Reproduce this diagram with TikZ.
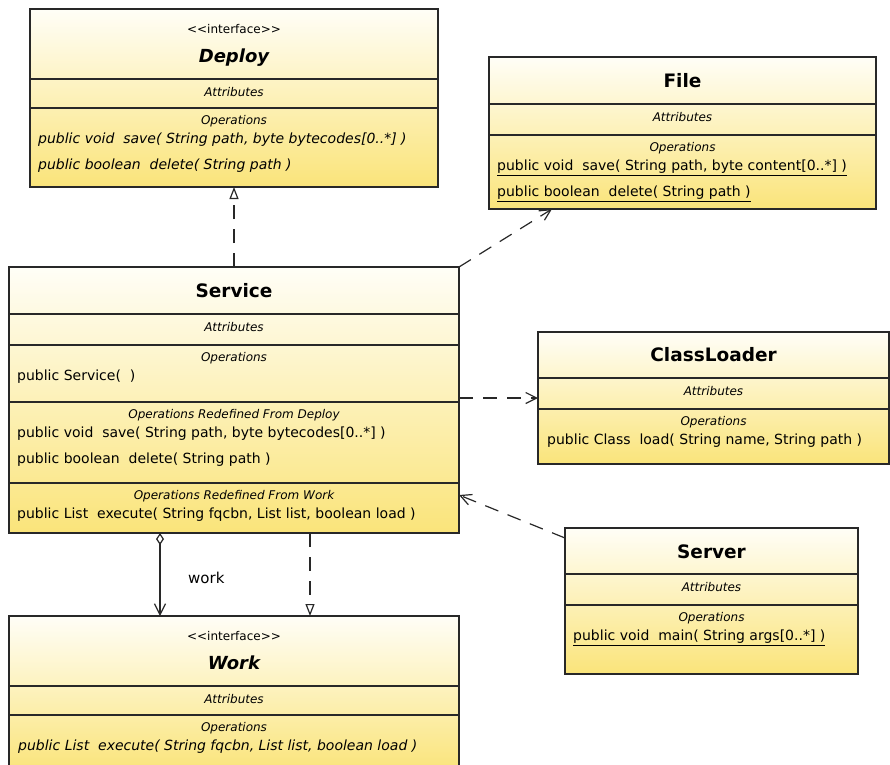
\documentclass[tikz,border=0pt]{standalone}
\usepackage{fontspec}
\setmainfont{DejaVu Sans}[Ligatures=TeXOff]
\usetikzlibrary{arrows.meta,calc}
\definecolor{umltop}{RGB}{255,254,247}
\definecolor{umlbot}{RGB}{250,228,122}
\definecolor{umlline}{RGB}{40,40,40}
\tikzset{
  umlbox/.style={draw=umlline, line width=1.2pt, top color=umltop, bottom color=umlbot,
    anchor=north west, inner sep=0pt, outer sep=0pt},
  ops/.style={anchor=base west, inner sep=0pt, font=\fontsize{14}{16}\selectfont},
  iops/.style={anchor=base west, inner sep=0pt, font=\fontsize{14}{16}\selectfont\itshape},
  hdr/.style={anchor=base, inner sep=0pt, font=\fontsize{12}{14}\selectfont\itshape},
  ttl/.style={anchor=base, inner sep=0pt, font=\fontsize{18.5}{20}\selectfont\bfseries},
  ittl/.style={anchor=base, inner sep=0pt, font=\fontsize{18}{20}\selectfont\bfseries\itshape},
  stereo/.style={anchor=base, inner sep=0pt, font=\fontsize{12}{14}\selectfont},
  divider/.style={draw=umlline, line width=1.2pt},
  conn/.style={draw=umlline, line width=1.2pt},
  dep/.style={conn, dash pattern=on 14pt off 10pt},
  realize/.style={dep, -{Triangle[open, width=9pt, length=12pt]}},
  depend/.style={dep, -{Straight Barb[width=11pt, length=11pt]}},
  aggr/.style={conn, {Diamond[open, width=8pt, length=12pt]}-{Straight Barb[width=11pt, length=11pt]}},
}
\begin{document}
\begin{tikzpicture}[x=1pt, y=-1pt]
\useasboundingbox (0,0) rectangle (890,764);
\clip (0,0) rectangle (890,764);
\fill[white] (0,0) rectangle (890,764);

% ---------- Deploy ----------
\node[umlbox, minimum width=408pt, minimum height=178pt] (deploy) at (30,9) {};
\draw[divider] ($(deploy.north west)+(0,70)$) -- ($(deploy.north east)+(0,70)$);
\draw[divider] ($(deploy.north west)+(0,99)$) -- ($(deploy.north east)+(0,99)$);
\node[stereo] (deployst) at (234,33) {<<interface>>};
\node[ittl] (deployname) at (234,62) {Deploy};
\node[hdr] (deployattr) at (234,96.5) {Attributes};
\node[hdr] (deployopsh) at (234,124) {Operations};
\node[iops] (deployop1) at (38,143.5) {public void\ \ save( String path, byte bytecodes[0..*] )};
\node[iops] (deployop2) at (38,169.5) {public boolean\ \ delete( String path )};

% ---------- File ----------
\node[umlbox, minimum width=387pt, minimum height=152pt] (file) at (489,57) {};
\draw[divider] ($(file.north west)+(0,47)$) -- ($(file.north east)+(0,47)$);
\draw[divider] ($(file.north west)+(0,78)$) -- ($(file.north east)+(0,78)$);
\node[ttl] (filename) at (682.5,87) {File};
\node[hdr] (fileattr) at (682.5,121.5) {Attributes};
\node[hdr] (fileopsh) at (682.5,151) {Operations};
\node[ops] (fileop1) at (497,170.5) {\underline{public void\ \ save( String path, byte content[0..*] )}};
\node[ops] (fileop2) at (497,196.5) {\underline{public boolean\ \ delete( String path )}};

% ---------- Service ----------
\node[umlbox, minimum width=450pt, minimum height=266pt] (service) at (9,267) {};
\draw[divider] ($(service.north west)+(0,47)$) -- ($(service.north east)+(0,47)$);
\draw[divider] ($(service.north west)+(0,78)$) -- ($(service.north east)+(0,78)$);
\draw[divider] ($(service.north west)+(0,135)$) -- ($(service.north east)+(0,135)$);
\draw[divider] ($(service.north west)+(0,216)$) -- ($(service.north east)+(0,216)$);
\node[ttl] (servicename) at (234,297) {Service};
\node[hdr] (serviceattr) at (234,331.5) {Attributes};
\node[hdr] (serviceopsh) at (234,361) {Operations};
\node[ops] (serviceop0) at (17,380.5) {public Service(\ \ )};
\node[hdr] (servicerdh) at (234,418) {Operations Redefined From Deploy};
\node[ops] (serviceop1) at (17,437.5) {public void\ \ save( String path, byte bytecodes[0..*] )};
\node[ops] (serviceop2) at (17,463.5) {public boolean\ \ delete( String path )};
\node[hdr] (servicerwh) at (234,499) {Operations Redefined From Work};
\node[ops] (serviceop3) at (17,518.5) {public List\ \ execute( String fqcbn, List list, boolean load )};

% ---------- ClassLoader ----------
\node[umlbox, minimum width=351pt, minimum height=132pt] (classloader) at (538,332) {};
\draw[divider] ($(classloader.north west)+(0,46)$) -- ($(classloader.north east)+(0,46)$);
\draw[divider] ($(classloader.north west)+(0,77)$) -- ($(classloader.north east)+(0,77)$);
\node[ttl] (clname) at (713.5,361) {ClassLoader};
\node[hdr] (clattr) at (713.5,395.5) {Attributes};
\node[hdr] (clopsh) at (713.5,425) {Operations};
\node[ops] (clop1) at (547,444.5) {public Class\ \ load( String name, String path )};

% ---------- Server ----------
\node[umlbox, minimum width=293pt, minimum height=146pt] (server) at (565,528) {};
\draw[divider] ($(server.north west)+(0,46)$) -- ($(server.north east)+(0,46)$);
\draw[divider] ($(server.north west)+(0,77)$) -- ($(server.north east)+(0,77)$);
\node[ttl] (servername) at (711.5,558) {Server};
\node[hdr] (serverattr) at (711.5,591.5) {Attributes};
\node[hdr] (serveropsh) at (711.5,621) {Operations};
\node[ops] (serverop1) at (573,640.5) {\underline{public void\ \ main( String args[0..*] )}};

% ---------- Work ----------
\node[umlbox, minimum width=450pt, minimum height=156pt] (work) at (9,616) {};
\draw[divider] ($(work.north west)+(0,70)$) -- ($(work.north east)+(0,70)$);
\draw[divider] ($(work.north west)+(0,99)$) -- ($(work.north east)+(0,99)$);
\node[stereo] (workst) at (234,640) {<<interface>>};
\node[ittl] (workname) at (234,669) {Work};
\node[hdr] (workattr) at (234,703.5) {Attributes};
\node[hdr] (workopsh) at (234,731) {Operations};
\node[iops] (workop1) at (18,750.5) {public List\ \ execute( String fqcbn, List list, boolean load )};

% ---------- Connectors ----------
\draw[realize] (service.north) -- (deploy.south);
\draw[depend] (service.north east) -- ($(file.south west)+(63,0)$);
\draw[depend] (classloader.west -| service.east) -- (classloader.west);
\draw[depend] ($(server.north west)+(0,10)$) -- ($(service.north east)+(0,228)$);
\draw[aggr] ($(service.south west)+(151,0)$) -- ($(work.north west)+(151,0)$);
\draw[realize] ($(service.south west)+(301,0)$) -- ($(work.north west)+(301,0)$);
\node[anchor=base west, inner sep=0pt, font=\fontsize{15}{16}\selectfont] (worklabel) at (188,583) {work};
\end{tikzpicture}
\end{document}
